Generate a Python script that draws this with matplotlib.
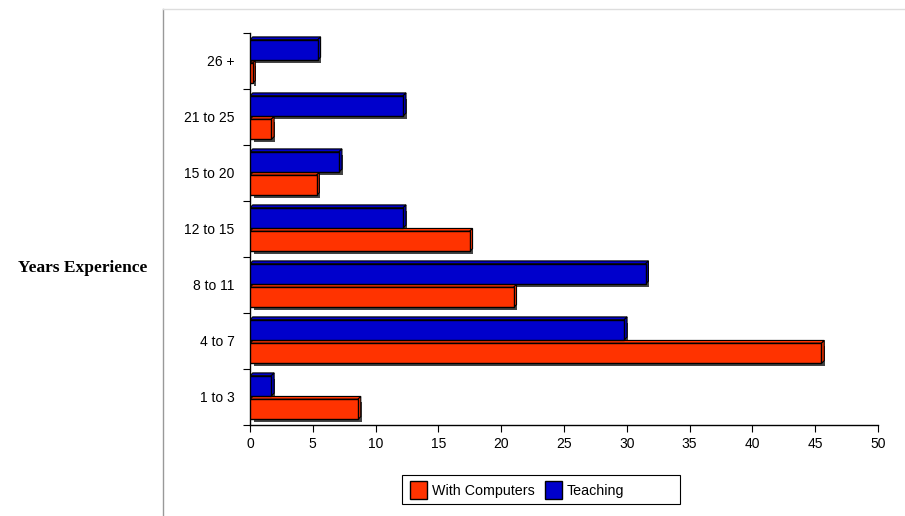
import numpy as np
import matplotlib.pyplot as plt
from matplotlib.patches import Polygon, Patch, Rectangle
from matplotlib.lines import Line2D
import matplotlib.transforms as mtransforms

categories = ['1 to 3', '4 to 7', '8 to 11', '12 to 15', '15 to 20', '21 to 25', '26 +']
with_computers = [8.6, 45.5, 21.0, 17.5, 5.3, 1.7, 0.2]
teaching = [1.7, 29.8, 31.5, 12.2, 7.1, 12.2, 5.4]

red = '#FF3300'
blue = '#0000CC'
bar_h = 0.36
dx, dy = 0.22, 0.05  # depth of the 3D faces, in data units

W, H = 905, 516
fig = plt.figure(figsize=(W / 100, H / 100), dpi=100)
ax = fig.add_axes([250 / W, 1 - 425 / H, 628 / W, 392 / H])

y = np.arange(len(categories))
shadow = ax.transData + mtransforms.ScaledTranslation(0.035, -0.03, fig.dpi_scale_trans)


def bars3d(ypos, vals, color):
    # shadow, front face, then the top and right faces
    ax.barh(ypos, vals, height=bar_h, left=0, color='#444444', transform=shadow, zorder=1)
    ax.barh(ypos, vals, height=bar_h, color=color, edgecolor='black', linewidth=1.0, zorder=3)
    for yc, v in zip(ypos, vals):
        top, bot = yc + bar_h / 2, yc - bar_h / 2
        ax.add_patch(Polygon([(0, top), (v, top), (v + dx, top + dy), (dx, top + dy)],
                             closed=True, facecolor=color, edgecolor='black', lw=0.8, zorder=2))
        ax.add_patch(Polygon([(v, bot), (v + dx, bot + dy), (v + dx, top + dy), (v, top)],
                             closed=True, facecolor=color, edgecolor='black', lw=0.8, zorder=2))


bars3d(y - 0.22, with_computers, red)
bars3d(y + 0.2, teaching, blue)

ax.set_xlim(0, 50)
ax.set_ylim(-0.5, len(categories) - 0.5)
ax.set_xticks(np.arange(0, 51, 5))
ax.set_yticks(y)
ax.set_yticklabels(categories)
ax.set_yticks(np.arange(-0.5, len(categories), 1), minor=True)
ax.tick_params(axis='y', which='major', length=0, pad=11, labelsize=10)
ax.tick_params(axis='y', which='minor', length=5, width=0.8)
ax.tick_params(axis='x', length=5, width=0.8, labelsize=10, pad=4)
for s in ['top', 'right']:
    ax.spines[s].set_visible(False)
ax.spines['left'].set_linewidth(1.0)
ax.spines['bottom'].set_linewidth(1.0)

for lbl in ax.get_xticklabels() + ax.get_yticklabels():
    lbl.set_fontfamily('Liberation Sans')

fig.text(83 / W, 1 - 268 / H, 'Years Experience', fontfamily='Liberation Serif',
         fontweight='bold', fontsize=12.5, ha='center', va='center')

# frame lines around the plot area
fig.add_artist(Line2D([163 / W, 163 / W], [0, 1 - 9 / H], color='#999999', lw=1))
fig.add_artist(Line2D([163 / W, 1], [1 - 9 / H, 1 - 9 / H], color='#dddddd', lw=1))

# legend entries sit at the left of a wider box
handles = [Patch(facecolor=red, edgecolor='black', label='With Computers'),
           Patch(facecolor=blue, edgecolor='black', label='Teaching')]
fig.legend(handles=handles, loc='center left', bbox_to_anchor=(410 / W, 1 - 490 / H),
           ncol=2, frameon=False, prop={'family': 'Liberation Sans', 'size': 10.3},
           handlelength=1.2, handleheight=1.5, handletextpad=0.35, columnspacing=0.7,
           borderpad=0, borderaxespad=0)
fig.add_artist(Rectangle((402 / W, 1 - 504 / H), 278 / W, 29 / H, transform=fig.transFigure,
                         facecolor='none', edgecolor='black', lw=0.8))

fig.savefig('out.png', dpi=100)
